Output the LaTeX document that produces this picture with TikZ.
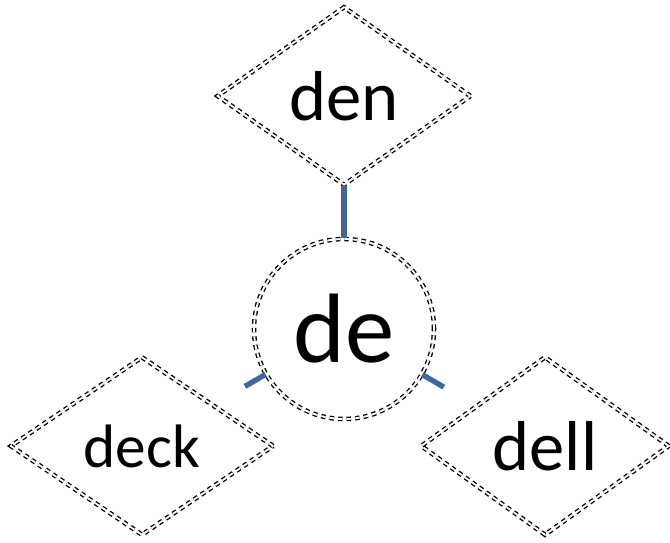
\documentclass[tikz,border=0pt]{standalone}
\usepackage{fontspec}
\setmainfont{Carlito}
\usetikzlibrary{shapes.geometric}
\definecolor{linkblue}{RGB}{62,104,156}

\begin{document}
\begin{tikzpicture}[x=0.75pt,y=-0.75pt,
  outline/.style={draw=black,double=white,double distance=1.4pt,line width=1pt,dash pattern=on 3.4pt off 3pt},
  leaf/.style={outline,diamond,inner sep=0pt,minimum height=133.5pt},
  root/.style={outline,circle,inner sep=0pt,minimum size=135pt},
  link/.style={draw=linkblue,line width=4pt}]
  \useasboundingbox (0,0) rectangle (670,542);
  \node[root,font=\fontsize{74}{80}\selectfont] (de) at (344,329) {de};
  \node[leaf,minimum width=190pt,font=\fontsize{53}{60}\selectfont] (den) at (344,96) {den};
  \node[leaf,minimum width=197pt,font=\fontsize{46}{54}\selectfont] (deck) at (142,446) {deck};
  \node[leaf,minimum width=186pt,font=\fontsize{53}{60}\selectfont] (dell) at (545,446) {dell};
  \draw[link] (de) -- (den);
  \draw[link,shorten >=27.5pt] (de) -- (deck);
  \draw[link,shorten >=28pt] (de) -- (dell);
\end{tikzpicture}
\end{document}
